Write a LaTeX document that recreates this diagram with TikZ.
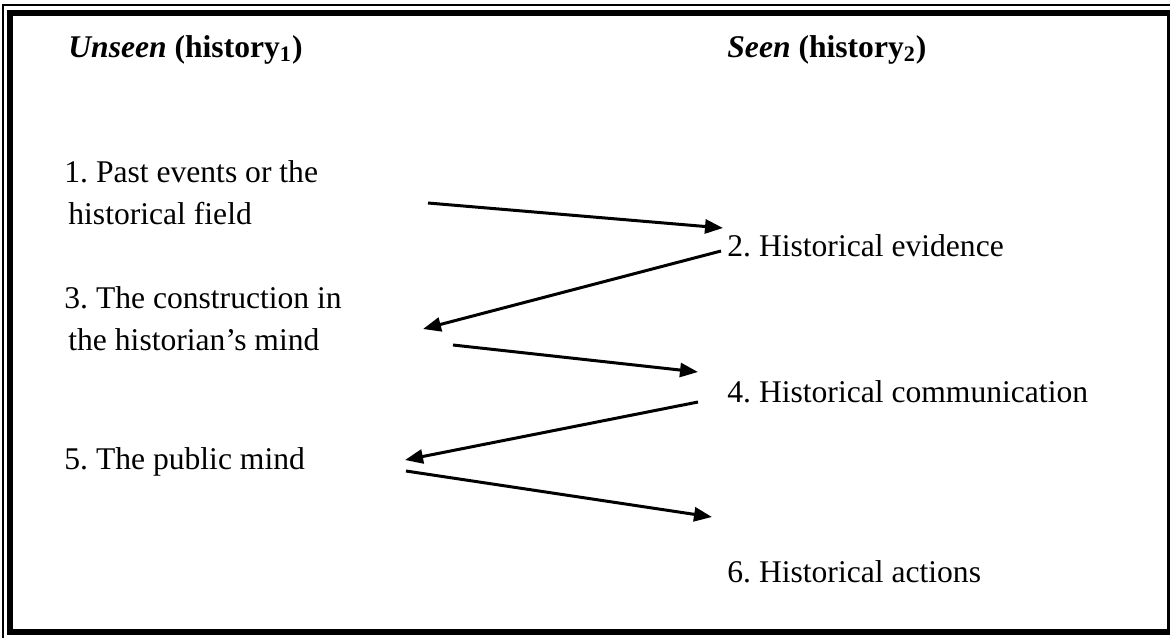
\documentclass[tikz,border=0pt]{standalone}
\usepackage{fontspec}
\setmainfont{Liberation Serif}
\usetikzlibrary{arrows.meta}
\frenchspacing
\begin{document}
\begin{tikzpicture}[x=0.5pt,y=-0.5pt,
  lbl/.style={anchor=base west,inner sep=0pt,font=\fontsize{15.8}{21}\selectfont},
  conn/.style={line width=1.5pt,-{Triangle[length=9pt,width=7pt]}}]
\useasboundingbox (0,0) rectangle (1170,637);
\clip (0,0) rectangle (1170,637);
% border
\draw[line width=1pt] (3,5) rectangle (1200,670);
\draw[line width=3.2pt] (10,13) rectangle (1170,632);
% headings
\node[lbl] (hu) at (68,57) {\textbf{\textit{Unseen}} \textbf{(history\textsubscript{1})}};
\node[lbl] (hs) at (727,57) {\textbf{\textit{Seen}} \textbf{(history\textsubscript{2})}};
% items
\node[lbl] (n1a) at (64,182) {1. Past events or the};
\node[lbl] (n1b) at (68,224) {historical field};
\node[lbl] (n2) at (727,256) {2. Historical evidence};
\node[lbl] (n3a) at (64,308) {3. The construction in};
\node[lbl] (n3b) at (68,350) {the historian’s mind};
\node[lbl] (n4) at (727,402) {4. Historical communication};
\node[lbl] (n5) at (64,469) {5. The public mind};
\node[lbl] (n6) at (727,582) {6. Historical actions};
% arrow end points
\coordinate (a1s) at (428,203); \coordinate (a1e) at (723,228);
\coordinate (a2s) at (721,251); \coordinate (a2e) at (423,329);
\coordinate (a3s) at (453,345); \coordinate (a3e) at (698,372);
\coordinate (a4s) at (698,402); \coordinate (a4e) at (405,460);
\coordinate (a5s) at (406,471); \coordinate (a5e) at (712,517);
\draw[conn] (a1s) -- (a1e);
\draw[conn] (a2s) -- (a2e);
\draw[conn] (a3s) -- (a3e);
\draw[conn] (a4s) -- (a4e);
\draw[conn] (a5s) -- (a5e);
\end{tikzpicture}
\end{document}
